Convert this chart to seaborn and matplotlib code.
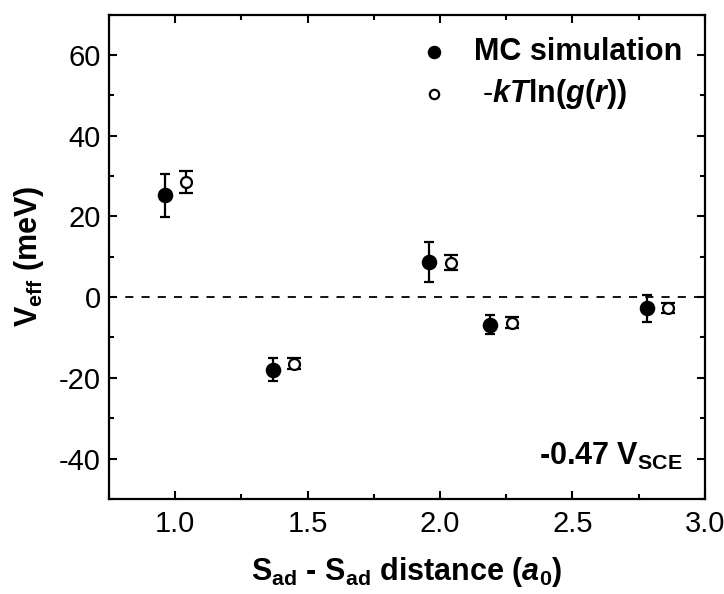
import numpy as np
import pandas as pd
import matplotlib
matplotlib.use("Agg")
import matplotlib.pyplot as plt
import seaborn as sns

# Sulfur adatom pair distances (lattice units) and effective interaction
dist_mc = [0.96, 1.37, 1.96, 2.19, 2.78]
veff_mc = [25.2, -18.0, 8.7, -6.8, -2.8]
err_mc = [5.3, 2.8, 5.0, 2.4, 3.3]

dist_gr = [1.04, 1.45, 2.04, 2.27, 2.86]
veff_gr = [28.5, -16.5, 8.5, -6.3, -2.7]
err_gr = [2.8, 1.3, 1.9, 1.3, 1.3]

x_ticks = [1.0, 1.5, 2.0, 2.5, 3.0]
y_ticks = [-40, -20, 0, 20, 40, 60]

sns.set_theme(style="ticks")
plt.rcParams["font.family"] = ["Liberation Sans", "DejaVu Sans"]
plt.rcParams["mathtext.fontset"] = "custom"
plt.rcParams["mathtext.rm"] = "Liberation Sans"
plt.rcParams["mathtext.it"] = "Liberation Sans:italic"
plt.rcParams["mathtext.bf"] = "Liberation Sans:bold"
plt.rcParams["mathtext.bfit"] = "Liberation Sans:italic:bold"
for key in ["text.color", "axes.labelcolor", "xtick.color", "ytick.color",
            "axes.edgecolor", "xtick.labelcolor", "ytick.labelcolor"]:
    plt.rcParams[key] = "black"

label_mc = "MC simulation"
label_gr = r" -$\mathbfit{kT}$$\mathbf{ln}$$\mathbf{(}$$\mathbfit{g}$$\mathbf{(}$$\mathbfit{r}$$\mathbf{))}$"

df = pd.DataFrame({
    "d": dist_mc + dist_gr,
    "v": veff_mc + veff_gr,
    "src": [label_mc] * len(dist_mc) + [label_gr] * len(dist_gr),
})

fig = plt.figure(figsize=(7.24, 5.94), dpi=100)
ax = fig.add_axes([0.1506, 0.16, 0.823, 0.8155])

ax.axhline(0, color="black", lw=1.3, ls=(0, (4.5, 4.5)), zorder=1)

ax.errorbar(dist_mc, veff_mc, yerr=err_mc, fmt="none", ecolor="black",
            elinewidth=1.6, capsize=3.8, capthick=1.6, zorder=2)
ax.errorbar(dist_gr, veff_gr, yerr=err_gr, fmt="none", ecolor="black",
            elinewidth=1.6, capsize=5.0, capthick=1.6, zorder=2)

sub_mc = df[df["src"] == label_mc]
sub_gr = df[df["src"] == label_gr]
sns.scatterplot(data=sub_mc, x="d", y="v", ax=ax, marker="o", s=100,
                color="black", edgecolor="black", linewidth=1.2,
                label=label_mc, zorder=3)
sns.scatterplot(data=sub_gr, x="d", y="v", ax=ax, marker="o", s=62,
                facecolor="white", edgecolor="black", linewidth=1.6,
                label=label_gr, zorder=3)

ax.set_xlim(0.75, 3.0)
ax.set_ylim(-50, 70)
ax.set_xticks(x_ticks)
ax.set_xticklabels([f"{t:.1f}" for t in x_ticks])
ax.set_yticks(y_ticks)
ax.set_yticklabels([str(t) for t in y_ticks])
ax.set_xticks(np.arange(0.75, 3.01, 0.25), minor=True)
ax.set_yticks(np.arange(-50, 71, 10), minor=True)

ax.tick_params(which="both", direction="in", top=True, right=True,
               color="black", width=1.5)
ax.tick_params(which="major", length=6, labelsize=21)
ax.tick_params(which="minor", length=3.6)
ax.tick_params(axis="x", which="major", pad=8)
ax.tick_params(axis="y", which="major", pad=6)
for sp in ax.spines.values():
    sp.set_linewidth(1.6)
    sp.set_color("black")

ax.set_xlabel(r"S$_{\mathbf{ad}}$ - S$_{\mathbf{ad}}$ distance ($\mathbfit{a}_\mathbf{0}$)",
              fontsize=22, fontweight="bold", labelpad=12)
ax.set_ylabel(r"V$_{\mathbf{eff}}$ (meV)", fontsize=22, fontweight="bold",
              labelpad=9)

leg = ax.legend(loc="upper right", frameon=False, fontsize=22,
                markerscale=0.85, handlelength=0.8, handletextpad=0.9,
                borderaxespad=0.35, labelspacing=0.3)
leg.get_texts()[0].set_fontweight("bold")

ax.text(2.915, -41.5, r"-0.47 V$_{\mathbf{SCE}}$", fontsize=22,
        fontweight="bold", ha="right", va="baseline")

fig.savefig("out.png", dpi=100)
